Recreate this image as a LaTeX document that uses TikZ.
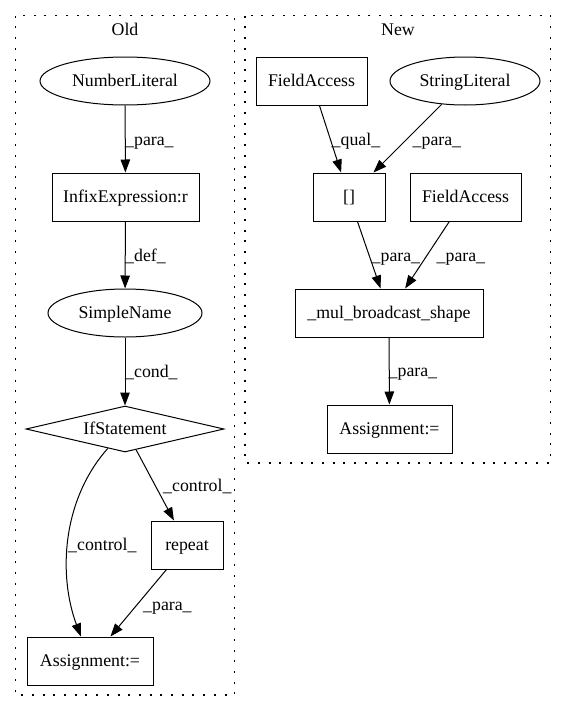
\documentclass[tikz,border=0pt]{standalone}
\usepackage{fontspec}
\setmainfont{Liberation Serif}
\usetikzlibrary{arrows.meta,shapes.geometric}
\begin{document}
\begin{tikzpicture}[x=1pt,y=-1pt,
  every node/.style={font=\fontsize{17.8}{20}\selectfont, inner sep=0pt, text height=14pt, text depth=3.4pt},
  box/.style={draw, line width=1pt, rectangle},
  oval/.style={draw, line width=1pt, ellipse},
  dmd/.style={draw, line width=1pt, diamond},
  lbl/.style={anchor=base west, text height=, text depth=},
  ttl/.style={anchor=base, text height=, text depth=},
  cluster/.style={line width=1.1pt, dash pattern=on 2pt off 8.7pt},
  edge/.style={line width=1pt, -{Triangle[length=13pt,width=9.5pt]}}
]
\useasboundingbox (0,0) rectangle (567,712);

% cluster frames
\draw[cluster] (15.7,15.7) rectangle (234.5,695);
\draw[cluster] (245,15.7) rectangle (550.5,463);
\node[ttl] (oldtitle) at (125,35) {Old};
\node[ttl] (newtitle) at (398,35) {New};

% Old graph
\node[oval, minimum width=170pt, minimum height=48pt] (numlit) at (125,81) {NumberLiteral};
\node[box, minimum width=147pt, minimum height=48pt] (infix) at (125.5,197) {InfixExpression:r};
\node[oval, minimum width=154pt, minimum height=48pt] (sname) at (125,313) {SimpleName};
\node[dmd, minimum width=198pt, minimum height=46pt, inner sep=0pt] (ifs) at (125,429) {};
\node (ifstext) at (125,429) {IfStatement};
\node[box, minimum width=72pt, minimum height=48pt] (rep) at (187,545) {repeat};
\node[box, minimum width=126pt, minimum height=48pt] (asgold) at (90,661) {Assignment:=};

\draw[edge] (numlit) -- (infix);
\draw[edge] (infix) -- (sname);
\draw[edge] (sname) -- (ifs);
\draw[edge] (ifs) -- (rep);
\draw[edge] (ifs) .. controls (62,500) and (58,575) .. (asgold);
\draw[edge] (rep) -- (asgold);

\node[lbl] (l1) at (125,145) {\_para\_};
\node[lbl] (l2) at (125,261) {\_def\_};
\node[lbl] (l3) at (125,377.5) {\_cond\_};
\node[lbl] (l4) at (163,491.5) {\_control\_};
\node[lbl] (l5) at (68,550.5) {\_control\_};
\node[lbl] (l6) at (143,610) {\_para\_};

% New graph
\node[box, minimum width=111pt, minimum height=48pt] (fa1) at (311.5,81) {FieldAccess};
\node[oval, minimum width=150pt, minimum height=48pt] (slit) at (465,81) {StringLiteral};
\node[box, minimum width=72pt, minimum height=48pt] (idx) at (349,197) {[]};
\node[box, minimum width=111pt, minimum height=48pt] (fa2) at (465.5,197) {FieldAccess};
\node[box, minimum width=188pt, minimum height=48pt] (mul) at (389,313) {\_mul\_broadcast\_shape};
\node[box, minimum width=125pt, minimum height=48pt] (asgnew) at (389.5,429) {Assignment:=};

\draw[edge] (fa1) -- (idx);
\draw[edge] (slit) -- (idx);
\draw[edge] (idx) -- (mul);
\draw[edge] (fa2) -- (mul);
\draw[edge] (mul) -- (asgnew);

\node[lbl] (l7) at (331.5,145) {\_qual\_};
\node[lbl] (l8) at (412.5,145) {\_para\_};
\node[lbl] (l9) at (371.5,261.5) {\_para\_};
\node[lbl] (l10) at (436.5,261.5) {\_para\_};
\node[lbl] (l11) at (388.5,376.5) {\_para\_};
\end{tikzpicture}
\end{document}
